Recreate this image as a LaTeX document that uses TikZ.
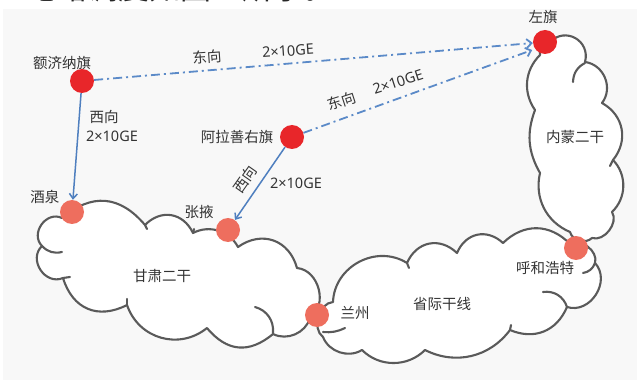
\documentclass[tikz,border=0pt]{standalone}
\usepackage{fontspec}
\setmainfont{Noto Sans CJK SC}
\newfontfamily\latf{Noto Sans}
\usetikzlibrary{arrows.meta}
\definecolor{bgc}{HTML}{F8F8F8}
\definecolor{ln}{HTML}{4F7FBF}
\definecolor{dl}{HTML}{5B8AC8}
\definecolor{rd}{HTML}{E8262A}
\definecolor{sal}{HTML}{EE6E5E}
\definecolor{cl}{HTML}{5A5A5A}
\definecolor{tx}{HTML}{333333}
\begin{document}
\begin{tikzpicture}[x=1pt,y=-1pt,
  lbl/.style={font=\fontsize{14.5}{16}\selectfont, text=tx, inner sep=1pt},
  bigdot/.style={circle, fill=rd, minimum size=24pt, inner sep=0pt},
  smdot/.style={circle, fill=sal, minimum size=24pt, inner sep=0pt},
  cloudline/.style={draw=cl, line width=2.1pt, line join=round, line cap=round},
  sarrow/.style={draw=ln, line width=1.5pt, -{Straight Barb[length=5pt,width=8pt]}},
  darrow/.style={draw=dl, line width=1.8pt, dash pattern=on 9pt off 4pt on 2pt off 4pt, -{Straight Barb[length=5pt,width=9pt]}}]
\useasboundingbox (0,0) rectangle (637,382);
% cut-off caption line at the top
\node[anchor=base west, inner sep=0pt, font=\fontsize{31}{33}\selectfont, text=black!85] (cap) at (25,0) {电路调度如图 5 所示。};
\fill[bgc] (3,9) rectangle (637,380);

% cloud shapes
\def\gansu{(62,218) to[bend left=45,looseness=1.2] (145,225) to[bend left=55,looseness=1.2] (193,233) to[bend left=45] (238,247) to[bend left=55,looseness=1.2] (297,268) to[bend left=70,looseness=1.1] (310,318) to[bend left=50] (273,334) to[bend left=45,looseness=1.2] (207,328) to[bend left=55,looseness=1.1] (127,305) to[bend left=50,looseness=1.2] (63,278) to[bend left=80,looseness=1.3] (42,246) to[bend left=80,looseness=1.3] (62,218)}
\def\prov{(333,302) to[bend left=60,looseness=1.1] (407,263) to[bend left=55,looseness=1.2] (457,253) to[bend left=55,looseness=1.2] (503,243) to[bend left=45,looseness=1.1] (570,244) to[bend left=70] (595,263) to[bend left=75,looseness=1.2] (567,307) to[bend left=45,looseness=1.1] (510,330) to[bend left=40] (425,350) to[bend left=45] (362,350) to[bend left=50] (323,337) to[bend left=70] (333,302)}
\def\nmg{(550,42) to[bend left=75,looseness=1.4] (585,62) to[bend left=60,looseness=1.1] (602,103) to[bend left=50,looseness=1.1] (613,160) to[bend left=45] (612,212) to[bend left=70] (592,238) to[bend left=60] (570,232) to[bend left=40] (540,173) to[bend left=25] (535,110) to[bend left=40] (540,55) to[bend left=60] (550,42)}
\fill[white] \gansu -- cycle;
\fill[white] \prov -- cycle;
\fill[white] \nmg -- cycle;
\draw[cloudline] \gansu -- cycle;
\draw[cloudline] \prov -- cycle;
\draw[cloudline] \nmg -- cycle;
% inner curls
\draw[cloudline] (42,246) to[bend right=30] (62,252);
\draw[cloudline] (63,278) -- (70,277);
\draw[cloudline] (127,305) -- (127,299);
\draw[cloudline] (255,307) to[bend left=40] (273,333);
\draw[cloudline] (145,225) -- (147,229);
\draw[cloudline] (193,233) -- (194,229);
\draw[cloudline] (543,292) to[bend left=40] (567,307);
\draw[cloudline] (583,273) to[bend right=30] (595,263);
\draw[cloudline] (407,263) -- (409,268);
\draw[cloudline] (323,332) to[bend right=15] (345,328);
\draw[cloudline] (510,330) -- (511,325);
\draw[cloudline] (573,82) to[bend left=30] (585,63);
\draw[cloudline] (613,160) -- (610,166);

% cloud labels
\node[lbl] (gs) at (162,276) {甘肃二干};
\node[lbl] (sj) at (442,304) {省际干线};
\node[lbl] (nm) at (575,137) {内蒙二干};

% sites
\node[bigdot] (ej) at (82,81) {};
\node[bigdot] (al) at (292,137) {};
\node[bigdot] (zq) at (545,42) {};
\node[smdot] (jq) at (72,212) {};
\node[smdot] (zy) at (228,230) {};
\node[smdot] (lz) at (317,315) {};
\node[smdot] (hh) at (576,248) {};

\node[lbl] (ejl) at (62,63) {额济纳旗};
\node[lbl] (all) at (237,137) {阿拉善右旗};
\node[lbl] (zql) at (543,17) {左旗};
\node[lbl] (jql) at (45,197) {酒泉};
\node[lbl] (zyl) at (199,212) {张掖};
\node[lbl] (lzl) at (355,313) {兰州};
\node[lbl] (hhl) at (545,268) {呼和浩特};

% connectors
\draw[sarrow] (ej) -- (jq);
\draw[sarrow] (al) -- (zy);
\draw[darrow] (ej) -- (zq);
\draw[darrow, shorten >=3pt] (al) -- (zq.215);

% connector labels
\node[lbl] (w1) at (104,117) {西向};
\node[lbl] (w1b) at (112,136) {\latf 2×10GE};
\node[lbl, rotate=55] (w2) at (245,179) {西向};
\node[lbl] (w2b) at (296,183) {\latf 2×10GE};
\node[lbl, rotate=4] (e1) at (207,57) {东向};
\node[lbl, rotate=4] (e1b) at (288,51) {\latf 2×10GE};
\node[lbl, rotate=18, inner sep=0pt] (e2) at (342,101) {东向};
\node[lbl, rotate=18, inner sep=0pt] (e2b) at (398,82) {\latf 2×10GE};
\end{tikzpicture}
\end{document}
